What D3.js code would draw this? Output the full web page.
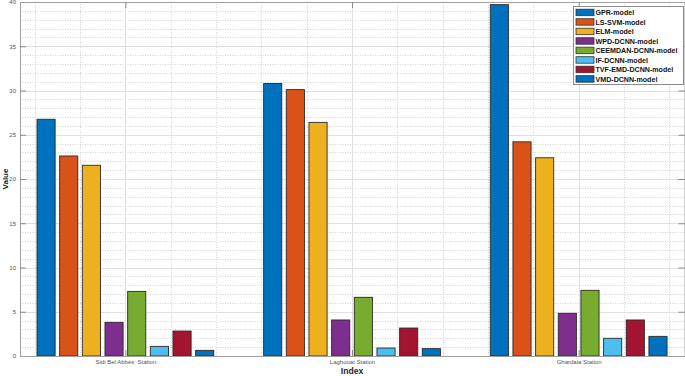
<!DOCTYPE html>
<html>
<head>
<meta charset="utf-8">
<script src="https://cdn.jsdelivr.net/npm/d3@7"></script>
<style>
  body { margin: 0; background: #fff; }
  svg { display: block; font-family: "Liberation Sans", Arial, sans-serif; }
</style>
</head>
<body>
<svg id="chart" width="685" height="376"></svg>
<script>
// stations on the x axis
var stations = ["Sidi Bel Abb\u00e8s  Station", "Laghouat Station", "Ghardaia Station"];
var models = ["GPR-model", "LS-SVM-model", "ELM-model", "WPD-DCNN-model",
              "CEEMDAN-DCNN-model", "IF-DCNN-model", "TVF-EMD-DCNN-model", "VMD-DCNN-model"];
var colors = ["#0072BD", "#D95319", "#EDB120", "#7E2F8E", "#77AC30", "#4DBEEE", "#A2142F", "#0072BD"];

// values per model, one per station
var gpr     = [26.75, 30.8, 39.7];
var lssvm   = [22.6, 30.1, 24.2];
var elm     = [21.55, 26.4, 22.4];
var wpd     = [3.8, 4.07, 4.82];
var ceemdan = [7.3, 6.63, 7.42];
var ifdcnn  = [1.09, 0.9, 2.0];
var tvf     = [2.82, 3.16, 4.07];
var vmd     = [0.64, 0.83, 2.22];
var seriesValues = [gpr, lssvm, elm, wpd, ceemdan, ifdcnn, tvf, vmd];

var yTicks = [0, 5, 10, 15, 20, 25, 30, 35, 40];

var svg = d3.select("#chart");
var pLeft = 20, pRight = 684.5, pTop = 2, pBottom = 356;

var x = d3.scaleLinear().domain([0.535, 3.467]).range([pLeft, pRight]);
var y = d3.scaleLinear().domain([0, 40]).range([pBottom, pTop]);
var unit = x(2) - x(1);
var inner = d3.scaleBand().domain(models)
              .range([-0.4 * unit, 0.4 * unit])
              .paddingInner(0.2).paddingOuter(0.1);

// grid
var grid = svg.append("g");
grid.selectAll(".ym").data(y.ticks(40).filter(function(d){ return d % 5 !== 0; }))
    .enter().append("line")
    .attr("x1", pLeft).attr("x2", pRight)
    .attr("y1", function(d){ return Math.round(y(d)) + 0.5; }).attr("y2", function(d){ return Math.round(y(d)) + 0.5; })
    .attr("stroke", "#d4d4d4").attr("stroke-dasharray", "1,1.5");
grid.selectAll(".xm").data(x.ticks(15).filter(function(d){ return Math.abs(d - Math.round(d)) > 0.01; }))
    .enter().append("line")
    .attr("y1", pTop).attr("y2", pBottom)
    .attr("x1", function(d){ return Math.round(x(d)) + 0.5; }).attr("x2", function(d){ return Math.round(x(d)) + 0.5; })
    .attr("stroke", "#d4d4d4").attr("stroke-dasharray", "1,1.5");
grid.selectAll(".yM").data(yTicks)
    .enter().append("line")
    .attr("x1", pLeft).attr("x2", pRight)
    .attr("y1", function(d){ return Math.round(y(d)) + 0.5; }).attr("y2", function(d){ return Math.round(y(d)) + 0.5; })
    .attr("stroke", "#e0e0e0");
grid.selectAll(".xM").data([1, 2, 3])
    .enter().append("line")
    .attr("y1", pTop).attr("y2", pBottom)
    .attr("x1", function(d){ return Math.round(x(d)) + 0.5; }).attr("x2", function(d){ return Math.round(x(d)) + 0.5; })
    .attr("stroke", "#e0e0e0");

// bars
var groups = svg.selectAll(".series").data(seriesValues).enter().append("g")
    .attr("fill", function(d, i){ return colors[i]; });
groups.selectAll("rect").data(function(d, i){
        return d.map(function(v, j){ return { m: models[i], v: v, s: j + 1 }; });
    })
    .enter().append("rect")
    .attr("x", function(d){ return x(d.s) + inner(d.m); })
    .attr("width", inner.bandwidth())
    .attr("y", function(d){ return y(d.v); })
    .attr("height", function(d){ return y(0) - y(d.v); })
    .attr("stroke", "#2a2a2a").attr("stroke-width", 0.9);

// axes (ticks inward, box style)
function styleAxis(g) {
    g.select(".domain").attr("stroke", "#a0a0a0");
    g.selectAll(".tick line").attr("stroke", "#8a8a8a");
    g.selectAll(".tick text").attr("fill", "#555").style("font-size", "6px");
}
svg.append("g").attr("transform", "translate(" + pLeft + ",0)")
   .call(d3.axisLeft(y).tickValues(yTicks).tickSize(-6).tickPadding(4).tickSizeOuter(0))
   .call(styleAxis);
svg.append("g").attr("transform", "translate(" + pRight + ",0)")
   .call(d3.axisRight(y).tickValues(yTicks).tickSize(-6).tickFormat("").tickSizeOuter(0))
   .call(styleAxis);
svg.append("g").attr("transform", "translate(0," + pBottom + ")")
   .call(d3.axisBottom(x).tickValues([1, 2, 3]).tickSize(-6).tickPadding(3).tickSizeOuter(0)
         .tickFormat(function(d){ return stations[d - 1]; }))
   .call(styleAxis)
   .selectAll(".tick text").attr("dy", "0.9em").style("white-space", "pre");
svg.append("g").attr("transform", "translate(0," + pTop + ")")
   .call(d3.axisTop(x).tickValues([1, 2, 3]).tickSize(-6).tickFormat("").tickSizeOuter(0))
   .call(styleAxis);

// axis titles
svg.append("text").attr("x", x(2)).attr("y", 374)
   .attr("text-anchor", "middle").style("font-size", "8.6px").style("font-weight", "bold")
   .attr("fill", "#262626").text("Index");
svg.append("text").attr("transform", "translate(8,179) rotate(-90)")
   .attr("text-anchor", "middle").style("font-size", "8px").style("font-weight", "bold")
   .attr("fill", "#262626").text("Value");

// legend
var lg = svg.append("g").attr("transform", "translate(573.5,6.5)");
lg.append("rect").attr("width", 110).attr("height", 78)
  .attr("fill", "#fff").attr("stroke", "#8c8c8c");
var items = lg.selectAll(".item").data(models).enter().append("g")
  .attr("transform", function(d, i){ return "translate(0," + (2.7 + i * 9.5) + ")"; });
items.append("rect").attr("x", 2.5).attr("width", 18).attr("height", 6.5)
  .attr("fill", function(d, i){ return colors[i]; })
  .attr("stroke", "#333").attr("stroke-width", 0.8);
items.append("text").attr("x", 22).attr("y", 5.9)
  .style("font-size", "7.1px").style("font-weight", "bold").attr("fill", "#111")
  .text(function(d){ return d; });
</script>
</body>
</html>
